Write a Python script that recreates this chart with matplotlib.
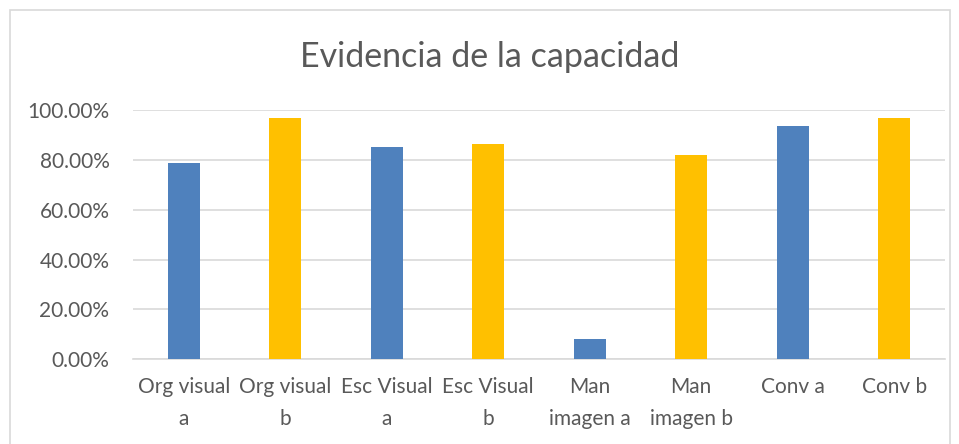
import matplotlib.pyplot as plt
from matplotlib.patches import Rectangle
from matplotlib.ticker import PercentFormatter

DPI = 100

categories = ['Org visual\na', 'Org visual\nb', 'Esc Visual\na', 'Esc Visual\nb',
              'Man\nimagen a', 'Man\nimagen b', 'Conv a', 'Conv b']
values = [79.0, 97.0, 85.2, 86.5, 8.2, 82.1, 93.8, 97.0]
bar_colors = ['#4F81BD', '#FFC000', '#4F81BD', '#FFC000',
              '#4F81BD', '#FFC000', '#4F81BD', '#FFC000']
y_ticks = [0, 20, 40, 60, 80, 100]

TEXT_COLOR = '#595959'
GRID_COLOR = '#D9D9D9'
FONT = ['Lato', 'DejaVu Sans']

plt.rcParams['font.family'] = FONT

fig = plt.figure(figsize=(9.59, 4.44), dpi=DPI)
ax = fig.add_axes([133 / 959, 1 - 359 / 444, 812 / 959, 248.7 / 444])

x = list(range(len(categories)))
ax.bar(x, values, width=0.315, color=bar_colors, zorder=3)

ax.set_xlim(-0.5, len(categories) - 0.5)
ax.set_ylim(0, 100)
ax.set_yticks(y_ticks)
ax.yaxis.set_major_formatter(PercentFormatter(decimals=2))
ax.set_xticks(x)
ax.set_xticklabels(categories, linespacing=1.75)

ax.grid(axis='y', color=GRID_COLOR, linewidth=1.2, zorder=0)
for side in ['top', 'right', 'left']:
    ax.spines[side].set_visible(False)
ax.spines['bottom'].set_color(GRID_COLOR)
ax.spines['bottom'].set_linewidth(1.2)
ax.tick_params(axis='both', length=0, labelsize=15, colors=TEXT_COLOR)
ax.tick_params(axis='y', pad=17)
ax.tick_params(axis='x', pad=13)

fig.text(490 / 959, 1 - 57 / 444, 'Evidencia de la capacidad', ha='center',
         va='center', fontsize=24.5, color=TEXT_COLOR)

# chart border
fig.patches.append(Rectangle((10 / 959, -0.1), 940 / 959, 1.1 - 10 / 444,
                             transform=fig.transFigure, fill=False,
                             edgecolor=GRID_COLOR, linewidth=1.2))

plt.savefig('out.png', dpi=DPI)
